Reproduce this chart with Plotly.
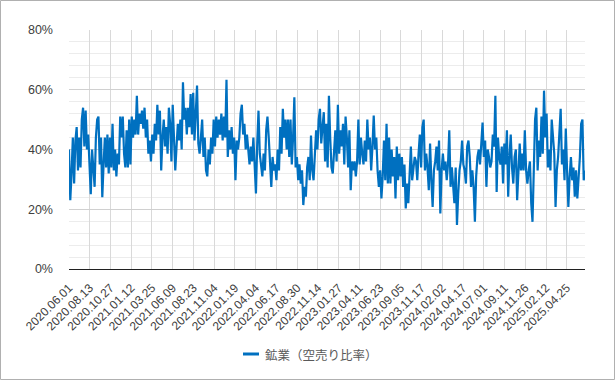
import numpy as np
import plotly.graph_objects as go

# ---- data (percent), in chronological order ----
seg_2020 = [40, 23, 32, 44, 28.6, 43, 47.5, 33, 44, 34, 50, 54, 41, 53, 40, 45, 35, 25, 40, 33,
            27.5, 44, 50, 51, 35, 44, 24, 35, 44, 34, 45, 32, 44, 34, 48.6, 33, 40, 31, 38.6, 35,
            51, 44, 51, 38.6, 34, 46.4, 34, 50, 35, 51, 44, 50, 45, 58, 45, 52, 48.6, 53, 47, 54,
            44, 50, 38.6, 43, 36, 45, 38.6, 48.6, 43, 55, 45, 53, 33, 44, 50, 41, 47.5, 38.6, 54, 48.6,
            36, 55]
seg_2021 = [42, 33, 41, 48.6, 43, 50, 40, 62.5, 50, 54, 45, 54, 47.5, 58.6, 45, 59, 43, 54, 61.4, 42,
            38.6, 44, 50, 37.5, 44, 33, 31, 40, 35, 44, 38.6, 50, 41, 51, 44, 50, 45, 52, 43, 51,
            44, 63.3, 37.5, 46.4, 40, 47.5, 38.6, 44, 29.7, 43, 40, 44, 52, 55, 45, 48.6, 40, 45, 38.6, 35,
            41, 36, 44, 33, 25.3, 42, 53, 38.6, 35, 31, 38.6, 33, 46.4, 51, 44, 36, 27.5, 37.5, 33, 35,
            29.7, 40, 33]
seg_2022 = [47.5, 38.6, 53.6, 44, 50, 40, 50, 37.5, 50, 35, 44, 57.5, 34, 37.5, 29.7, 35, 28.6, 33, 21.4, 27.5,
            24.2, 34, 37.5, 29.7, 44.7, 33, 29.7, 40, 46.4, 40, 50, 53.6, 42, 47.5, 52.5, 36, 48.6, 34, 58, 44,
            34, 32, 41, 46.4, 36, 55, 38.6, 46.4, 41, 48.6, 35, 51, 44, 34, 46.4, 26.4, 36, 33, 36, 31,
            36, 50, 35, 44, 38.6, 35, 43, 36, 50, 40, 44, 33, 41, 51.4, 40, 44, 33, 27.5, 33, 23.6,
            31, 43, 29.7]
seg_2023 = [48.6, 28.6, 44, 28.6, 40, 31, 37.5, 23.6, 41, 29.7, 38.6, 31, 37.5, 27.5, 35, 20.3, 28.6, 22, 33, 41,
            29.7, 34, 37.5, 36, 29.7, 38.6, 45, 34, 47.5, 50, 33, 38.6, 34, 26.4, 42, 29.7, 20.8, 33, 36, 41,
            33, 43, 18.6, 33, 38.6, 33, 36, 29.7, 35, 46.4, 27.5, 34, 26.4, 22, 34, 14.7, 25.3, 33, 36, 43,
            35, 33, 28.6, 41, 43, 37.5, 27.5, 33, 27.5, 15.8, 31, 37.5, 40, 35, 42, 49, 37.5, 43, 27.5, 40]
seg_2024 = [37.5, 34, 36, 45, 41, 58, 25.8, 44, 37.5, 35, 41, 28.6, 42, 35, 46.4, 24.2, 37.5, 45, 34, 28.6,
            37.5, 40, 23, 35, 42, 33, 38.6, 33, 46.4, 33, 28.6, 33, 36, 22, 15.8, 33, 50, 54, 33, 43,
            37.5, 51, 38.6, 59.7, 44, 52, 34, 40, 33, 50, 44, 38.6, 20.8, 33, 37.5, 44, 53.6, 35, 40, 29.7,
            47, 33, 20.8, 31, 37.5, 29.7, 34, 24.2, 33, 23.6, 29.7, 37.5, 48.6, 50, 29.7, 33]

values = seg_2020 + seg_2021 + seg_2022 + seg_2023 + seg_2024

tick_labels = ["2020.06.01", "2020.08.13", "2020.10.27", "2021.01.12", "2021.03.25",
               "2021.06.09", "2021.08.23", "2021.11.04", "2022.01.19", "2022.04.04",
               "2022.06.17", "2022.08.30", "2022.11.14", "2023.01.27", "2023.04.11",
               "2023.06.23", "2023.09.05", "2023.11.17", "2024.02.02", "2024.04.17",
               "2024.07.01", "2024.09.11", "2024.11.26", "2025.02.12", "2025.04.25"]
days_per_tick = 50
n_days = 1245
series_name = "鉱業（空売り比率）"

# ---- figure ----
x = np.linspace(0, n_days - 1, len(values))
tickvals = [i * days_per_tick for i in range(len(tick_labels))]

W, H = 615, 380
ml, mr, mt, mb = 69, 30, 30, 111
pw, ph = W - ml - mr, H - mt - mb

font = "Liberation Sans, Arial, sans-serif"
line_color = "#0070c0"


def px_x(p):  # figure pixel -> paper x
    return (p - ml) / pw


def px_y(p):  # figure pixel -> paper y
    return (H - mb - p) / ph


fig = go.Figure()
fig.add_trace(go.Scatter(x=x, y=values, mode="lines", name=series_name, showlegend=False,
                         line=dict(color=line_color, width=2.2)))

# legend (drawn manually to match the short key line)
leg_y = 354
fig.add_shape(type="line", xref="paper", yref="paper",
              x0=px_x(243), x1=px_x(259), y0=px_y(leg_y), y1=px_y(leg_y),
              line=dict(color=line_color, width=3))
fig.add_annotation(text=series_name, xref="paper", yref="paper",
                   x=px_x(263), y=px_y(leg_y), xanchor="left", yanchor="middle",
                   showarrow=False,
                   font=dict(family="Noto Sans CJK JP, " + font, size=12.5, color="#595959"))
# outer border
fig.add_shape(type="rect", xref="paper", yref="paper",
              x0=px_x(0.5), x1=px_x(W - 0.5), y0=px_y(H - 0.5), y1=px_y(0.5),
              line=dict(color="#b0b0b0", width=1), layer="below")

fig.update_layout(
    width=W, height=H,
    margin=dict(l=ml, r=mr, t=mt, b=mb),
    paper_bgcolor="white", plot_bgcolor="white",
    font=dict(family=font, size=12, color="#404040"),
    showlegend=False,
)

fig.update_xaxes(range=[0, n_days - 1], tickmode="array", tickvals=tickvals, ticktext=tick_labels,
                 tickangle=-45, showgrid=True, gridcolor="#d9d9d9", gridwidth=1,
                 showline=True, linecolor="#202020", linewidth=1.3,
                 tickfont=dict(size=12, color="#404040"), ticks="", ticklabelstandoff=6,
                 zeroline=False)
fig.update_yaxes(range=[0, 80], dtick=20, ticksuffix="%", showgrid=True, gridcolor="#d0d0d0",
                 gridwidth=1, zeroline=False, ticks="", ticklabelstandoff=15,
                 minor=dict(dtick=4, showgrid=True, gridcolor="#ececec", gridwidth=1),
                 tickfont=dict(size=12.5, color="#404040"))

fig.write_html("out.html")
